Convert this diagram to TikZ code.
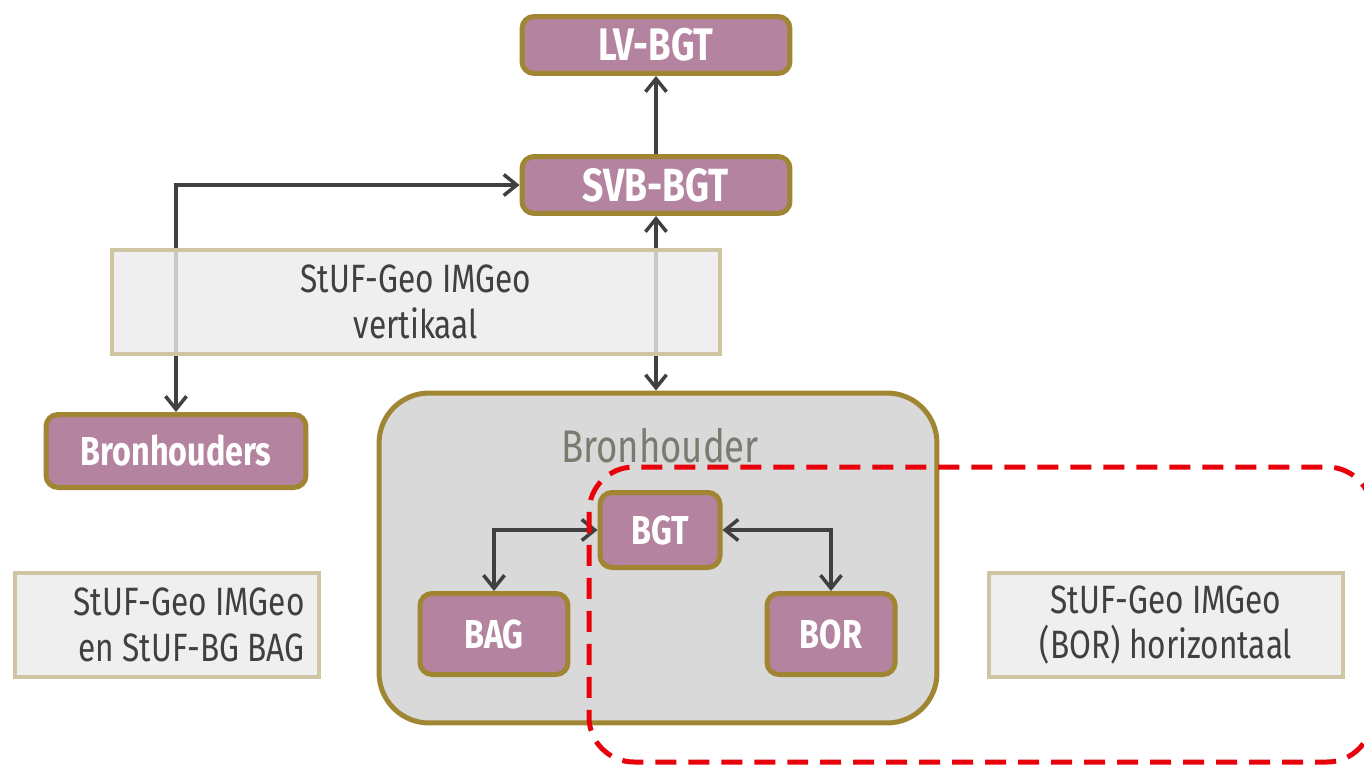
\documentclass[tikz,border=0pt]{standalone}
\usepackage{fontspec}
\setmainfont{Fira Sans}[FakeStretch=0.8]
\usetikzlibrary{arrows.meta}
\definecolor{mauve}{HTML}{B4839F}
\definecolor{gold}{HTML}{A08533}
\definecolor{tan}{HTML}{CFC5A2}
\definecolor{arrowgray}{HTML}{404040}
\definecolor{textgray}{HTML}{7A7A6E}
\definecolor{zonered}{HTML}{E8000B}
\begin{document}
\begin{tikzpicture}[x=0.02cm,y=-0.02cm,
  sysbox/.style={draw=gold, line width=0.1cm, fill=mauve, rounded corners=0.24cm,
    text=white, font=\bfseries\fontsize{23}{26}\selectfont, inner sep=0pt},
  protobox/.style={draw=tan, line width=0.08cm, fill=black!8, fill opacity=0.8,
    text opacity=1, text=arrowgray, font=\fontsize{22.5}{26}\selectfont,
    align=center, inner sep=0pt, minimum height=2.08cm},
  link/.style={draw=arrowgray, line width=0.07cm,
    {Straight Barb[length=0.26cm,width=0.42cm]}-{Straight Barb[length=0.26cm,width=0.42cm]}}]
\useasboundingbox [fill=white] (0,0) rectangle (1364,767);
\node [sysbox, minimum width=5.36cm, minimum height=1.14cm] (lvbgt) at (656,45) {\fontsize{26}{29}\selectfont LV-BGT};
\node [sysbox, minimum width=5.36cm, minimum height=1.14cm] (svbbgt) at (656,185) {\fontsize{26.5}{29}\selectfont SVB-BGT};
\node [sysbox, minimum width=5.2cm, minimum height=1.46cm] (bronhouders) at (176,451) {Bronhouders};
\node [draw=gold, line width=0.1cm, fill=black!15, rounded corners=1cm,
  minimum width=11.16cm, minimum height=6.6cm] (bronhouder) at (658,558) {};
\node [text=textgray, font=\fontsize{26}{30}\selectfont] (bronlabel) at (660,446) {Bronhouder};
\node [sysbox, minimum width=2.4cm, minimum height=1.5cm] (bgt) at (660,530) {BGT};
\node [sysbox, minimum width=2.96cm, minimum height=1.62cm] (bag) at (494,634) {BAG};
\node [sysbox, minimum width=2.56cm, minimum height=1.62cm] (bor) at (831,634) {BOR};
\draw [link, -{Straight Barb[length=0.26cm,width=0.42cm]}] (svbbgt) -- (lvbgt);
\draw [link] (bronhouders.north) |- (svbbgt.west);
\draw [link] (svbbgt.south) -- (svbbgt.south |- bronhouder.north);
\draw [link] (bag.north) |- (bgt.west);
\draw [link] (bor.north) |- (bgt.east);
\node [protobox, minimum width=12.18cm] (vertikaal) at (416,302) {StUF-Geo IMGeo\\vertikaal};
\node [protobox, text width=5.5cm, inner xsep=0.3cm, align=flush right] (bagproto) at (167,625) {StUF-Geo IMGeo\\en StUF-BG BAG};
\node [protobox, minimum width=7.08cm] (horizontaal) at (1166,625) {StUF-Geo IMGeo\\(BOR) horizontaal};
\draw [zonered, line width=0.1cm, dash pattern=on 0.42cm off 0.24cm, rounded corners=0.9cm]
  (589,467) rectangle (1372,762);
\end{tikzpicture}
\end{document}
